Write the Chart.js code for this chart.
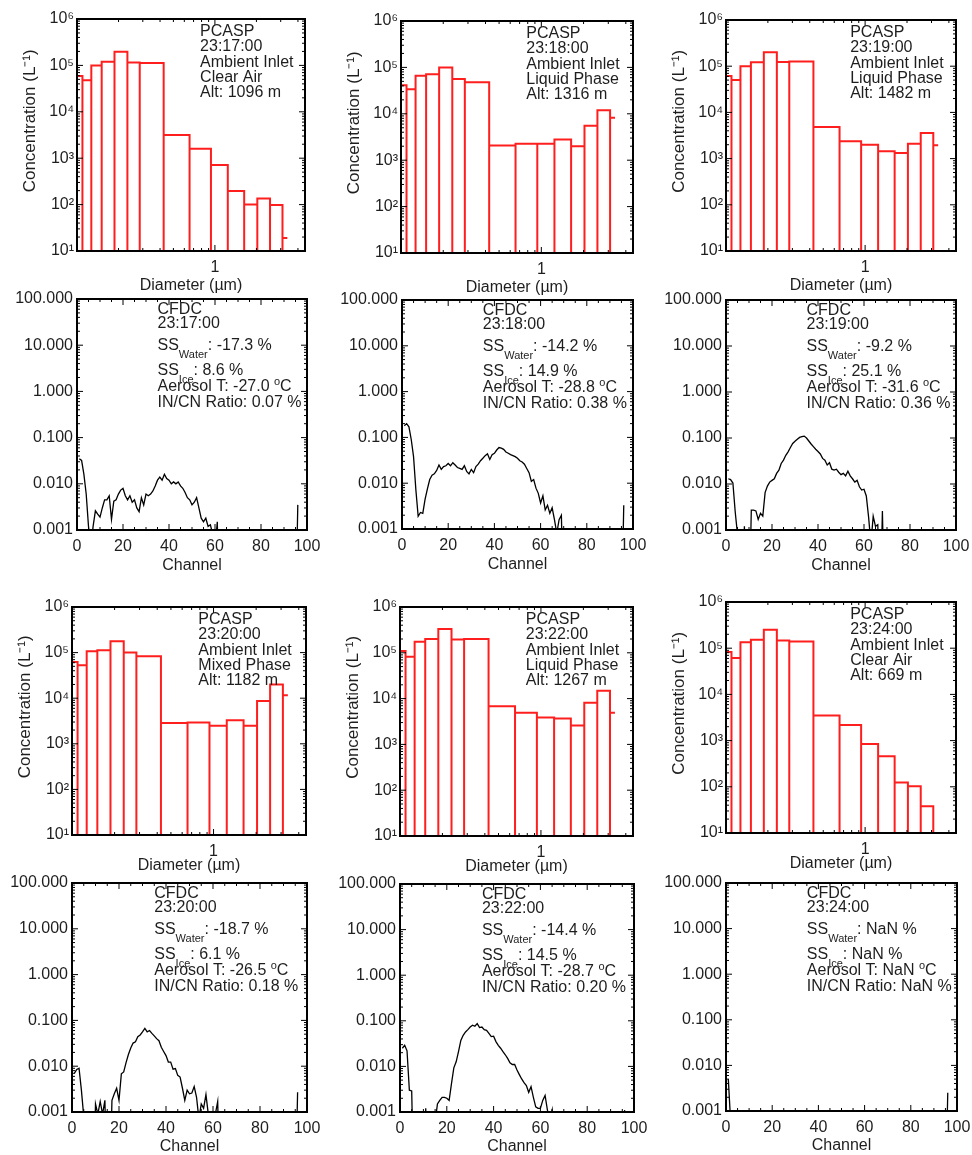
<!DOCTYPE html>
<html lang="en">
<head>
<meta charset="utf-8">
<title>PCASP size distributions and CFDC channel spectra</title>
<script src="https://cdn.jsdelivr.net/npm/chart.js@4.4.1/dist/chart.umd.min.js"></script>
<style>
    html, body { margin: 0; padding: 0; background: #ffffff; }
    #page { position: relative; width: 972px; height: 1155px; overflow: hidden; background: #ffffff; }
    #page canvas { position: absolute; }
</style>
</head>
<body>
<div id="page"></div>
<script>
// ================== Data ==================
// PCASP bin edges (um); 15 bins, the last one is drawn only as its top
const BIN_EDGES = [0.100, 0.1095, 0.127, 0.151, 0.187, 0.232, 0.285, 0.425, 0.655, 0.936, 1.24, 1.63, 2.03, 2.51, 3.09, 3.35];

const PCASP_TIMES = ['23:17:00', '23:18:00', '23:19:00', '23:20:00', '23:22:00', '23:24:00'];
const PCASP_INLET = 'Ambient Inlet';
const PCASP_PHASE = ['Clear Air', 'Liquid Phase', 'Liquid Phase', 'Mixed Phase', 'Liquid Phase', 'Clear Air'];
const PCASP_ALT = [1096, 1316, 1482, 1182, 1267, 669];

// concentration per bin (L^-1)
const PCASP_2317 = [5.9e4, 4.8e4, 1.0e5, 1.2e5, 1.97e5, 1.16e5, 1.12e5, 3.16e3, 1.6e3, 710, 197, 100, 135, 98, 19];
const PCASP_2318 = [4.1e4, 3.4e4, 6.6e4, 7.1e4, 1.0e5, 5.6e4, 4.8e4, 2.07e3, 2.25e3, 2.25e3, 2.8e3, 2.0e3, 5.5e3, 1.2e4, 8.2e3];
const PCASP_2319 = [6.1e4, 5.0e4, 1.0e5, 1.22e5, 2.0e5, 1.24e5, 1.26e5, 4.85e3, 2.37e3, 2.0e3, 1.44e3, 1.33e3, 2.1e3, 3.6e3, 1.95e3];
const PCASP_2320 = [6.2e4, 5.3e4, 1.07e5, 1.12e5, 1.77e5, 1.0e5, 8.3e4, 2.86e3, 2.95e3, 2.5e3, 3.27e3, 2.5e3, 8.7e3, 2.0e4, 1.16e4];
const PCASP_2322 = [1.09e5, 8.2e4, 1.74e5, 2.0e5, 3.3e5, 1.96e5, 2.0e5, 6.8e3, 4.9e3, 3.86e3, 3.7e3, 2.58e3, 8.1e3, 1.48e4, 4.9e3];
const PCASP_2324 = [8.3e4, 6.1e4, 1.35e5, 1.52e5, 2.5e5, 1.47e5, 1.4e5, 3.5e3, 2.17e3, 840, 460, 124, 103, 38, 5];
const PCASP_CONC = [PCASP_2317, PCASP_2318, PCASP_2319, PCASP_2320, PCASP_2322, PCASP_2324];

const CFDC_TIMES = ['23:17:00', '23:18:00', '23:19:00', '23:20:00', '23:22:00', '23:24:00'];
const SS_WATER = ['-17.3', '-14.2', '-9.2', '-18.7', '-14.4', 'NaN'];
const SS_ICE = ['8.6', '14.9', '25.1', '6.1', '14.5', 'NaN'];
const AEROSOL_T = ['-27.0', '-28.8', '-31.6', '-26.5', '-28.7', 'NaN'];
const IN_CN_RATIO = ['0.07', '0.38', '0.36', '0.18', '0.20', 'NaN'];

// CFDC channels 1..96
const CHANNELS = Array.from({ length: 96 }, (_, i) => i + 1);

const CFDC_2317 = [
    0.035, 0.032, 0.016, 0.006, 0.0012, 0.0004, 0.0012, 0.0026, 0.0022, 0.0019,
    0.003, 0.0045, 0.0045, 0.0055, 0.0017, 0.0042, 0.0045, 0.006, 0.0073, 0.008,
    0.0055, 0.0045, 0.0055, 0.004, 0.0045, 0.003, 0.0025, 0.005, 0.0035, 0.006,
    0.0055, 0.006, 0.007, 0.009, 0.012, 0.014, 0.012, 0.016, 0.013, 0.012,
    0.01, 0.011, 0.01, 0.011, 0.009, 0.008, 0.0065, 0.005, 0.0045, 0.0035,
    0.004, 0.005, 0.003, 0.0018, 0.0015, 0.0018, 0.0012, 0.0013, 0.0008, 0.0004,
    0.0015, 0, 0, 0, 0, 0, 0, 0, 0, 0,
    0, 0, 0, 0, 0, 0, 0, 0, 0, 0,
    0, 0, 0, 0, 0, 0, 0, 0, 0, 0,
    0, 0, 0, 0, 0, 0.0035
];
const CFDC_2318 = [
    0.18, 0.2, 0.17, 0.09, 0.038, 0.0072, 0.0019, 0.0023, 0.0022, 0.0045,
    0.0075, 0.012, 0.015, 0.016, 0.019, 0.025, 0.02, 0.023, 0.024, 0.027,
    0.024, 0.028, 0.025, 0.022, 0.021, 0.02, 0.024, 0.018, 0.016, 0.02,
    0.017, 0.023, 0.026, 0.031, 0.035, 0.04, 0.044, 0.033, 0.042, 0.045,
    0.053, 0.06, 0.058, 0.055, 0.048, 0.045, 0.042, 0.04, 0.038, 0.035,
    0.031, 0.029, 0.026, 0.021, 0.017, 0.011, 0.012, 0.0078, 0.006, 0.0037,
    0.0053, 0.0026, 0.0033, 0.0022, 0.0029, 0.0016, 0.0008, 0.0016, 0.002, 0,
    0, 0, 0, 0, 0, 0, 0, 0, 0, 0,
    0, 0, 0, 0, 0, 0, 0, 0, 0, 0,
    0, 0, 0, 0, 0, 0.0033
];
const CFDC_2319 = [
    0.013, 0.0125, 0.0105, 0.0025, 0.0008, 0, 0, 0.0012, 0, 0,
    0.0027, 0.0027, 0.0026, 0.0017, 0.0023, 0.002, 0.0065, 0.009, 0.011, 0.012,
    0.013, 0.017, 0.02, 0.028, 0.033, 0.042, 0.05, 0.062, 0.076, 0.085,
    0.094, 0.103, 0.107, 0.11, 0.1, 0.086, 0.074, 0.065, 0.057, 0.051,
    0.045, 0.036, 0.033, 0.026, 0.029, 0.021, 0.02, 0.021, 0.018, 0.016,
    0.017, 0.015, 0.019, 0.015, 0.013, 0.011, 0.012, 0.0087, 0.0074, 0.0077,
    0.0055, 0.0019, 0.0005, 0.002, 0.0012, 0.0013, 0, 0.0026, 0, 0,
    0, 0, 0, 0, 0, 0, 0, 0, 0, 0,
    0, 0, 0, 0, 0, 0, 0, 0, 0, 0,
    0, 0, 0, 0, 0, 0
];
const CFDC_2320 = [
    0.007, 0.0085, 0.009, 0.003, 0.0008, 0, 0, 0, 0, 0.0015,
    0.0009, 0.0017, 0.0009, 0.0018, 0, 0, 0.0018, 0.0025, 0.0033, 0.0018,
    0.0068, 0.0075, 0.012, 0.018, 0.025, 0.032, 0.034, 0.044, 0.048, 0.056,
    0.067, 0.056, 0.06, 0.052, 0.046, 0.04, 0.036, 0.026, 0.021, 0.017,
    0.0123, 0.0123, 0.0086, 0.0089, 0.0063, 0.0058, 0.0033, 0.0018, 0.003, 0.0025,
    0.0026, 0.0036, 0.0021, 0.0007, 0.0015, 0.0012, 0.0024, 0.0009, 0, 0,
    0.0009, 0.0017, 0, 0, 0, 0, 0, 0, 0, 0,
    0, 0, 0, 0, 0, 0, 0, 0, 0, 0,
    0, 0, 0, 0, 0, 0, 0, 0, 0, 0,
    0, 0, 0, 0, 0, 0.0027
];
const CFDC_2322 = [
    0.025, 0.029, 0.022, 0.003, 0.0029, 0, 0, 0, 0, 0,
    0.0012, 0, 0, 0, 0.0006, 0.0015, 0.0018, 0.0021, 0.0021, 0.002,
    0.0018, 0.0042, 0.0093, 0.0126, 0.021, 0.037, 0.048, 0.057, 0.064, 0.073,
    0.08, 0.076, 0.087, 0.071, 0.073, 0.064, 0.062, 0.053, 0.045, 0.046,
    0.035, 0.029, 0.025, 0.021, 0.018, 0.015, 0.012, 0.011, 0.011, 0.0083,
    0.0066, 0.0053, 0.0044, 0.0038, 0.0027, 0.0036, 0.0021, 0.0013, 0.0012, 0.0012,
    0.0018, 0.0023, 0.0011, 0.0007, 0.0011, 0, 0, 0, 0, 0,
    0, 0, 0, 0, 0, 0, 0, 0, 0, 0,
    0, 0, 0, 0, 0, 0, 0, 0, 0, 0,
    0, 0, 0, 0, 0, 0.0011
];
const CFDC_2324 = [
    0.005, 0.0006, 0, 0, 0, 0, 0, 0, 0, 0,
    0, 0, 0, 0, 0, 0, 0, 0, 0, 0,
    0, 0, 0, 0, 0, 0, 0, 0, 0, 0,
    0, 0, 0, 0, 0, 0, 0, 0, 0, 0,
    0, 0, 0, 0, 0, 0, 0, 0, 0, 0,
    0, 0, 0, 0, 0, 0, 0, 0, 0, 0,
    0, 0, 0, 0, 0, 0, 0, 0, 0, 0,
    0, 0, 0, 0, 0, 0, 0, 0, 0, 0,
    0, 0, 0, 0, 0, 0, 0, 0, 0, 0,
    0, 0, 0, 0, 0, 0.0025
];
const CFDC_CONC = [CFDC_2317, CFDC_2318, CFDC_2319, CFDC_2320, CFDC_2322, CFDC_2324];

// tick values
const DIAM_MAJOR = [1];
const DIAM_MINOR = [0.2, 0.3, 0.4, 0.5, 0.6, 0.7, 0.8, 0.9, 2, 3, 4];
const CONC_DECADES = [1e1, 1e2, 1e3, 1e4, 1e5, 1e6];
const CHANNEL_MAJOR = [0, 20, 40, 60, 80, 100];
const CHANNEL_MINOR = [5, 10, 15, 25, 30, 35, 45, 50, 55, 65, 70, 75, 85, 90, 95];
const CFDC_DECADES = [0.001, 0.01, 0.1, 1, 10, 100];

// ================== Layout ==================
const FONT = '"Liberation Sans", Arial, Helvetica, sans-serif';
const INK = '#1e1e1e';
const PAD_T = 14, PAD_R = 30;
const BELOW_AXIS = 1e-5; // where empty channels are drawn on the log axis

const PANELS = [
    { kind: 'pcasp', k: 0, rect: { l: 77, t: 19, r: 305, b: 251 }, axH: 44 },
    { kind: 'pcasp', k: 1, rect: { l: 401, t: 21, r: 633, b: 253 }, axH: 44 },
    { kind: 'pcasp', k: 2, rect: { l: 726, t: 20, r: 956, b: 251 }, axH: 44 },
    { kind: 'cfdc', k: 0, rect: { l: 77, t: 299, r: 307, b: 530 }, axH: 45 },
    { kind: 'cfdc', k: 1, rect: { l: 402, t: 300, r: 633, b: 529 }, axH: 45 },
    { kind: 'cfdc', k: 2, rect: { l: 726, t: 300, r: 956, b: 530 }, axH: 45 },
    { kind: 'pcasp', k: 3, rect: { l: 72, t: 607, r: 306, b: 835 }, axH: 40 },
    { kind: 'pcasp', k: 4, rect: { l: 400, t: 607, r: 633, b: 836 }, axH: 40 },
    { kind: 'pcasp', k: 5, rect: { l: 726, t: 602, r: 956, b: 833 }, axH: 40 },
    { kind: 'cfdc', k: 3, rect: { l: 72, t: 883, r: 307, b: 1112 }, axH: 44 },
    { kind: 'cfdc', k: 4, rect: { l: 400, t: 884, r: 634, b: 1112 }, axH: 44 },
    { kind: 'cfdc', k: 5, rect: { l: 726, t: 883, r: 957, b: 1111 }, axH: 44 }
];

Chart.defaults.font.family = FONT;
Chart.defaults.font.size = 16;
Chart.defaults.color = INK;

const SUP_DIGITS = '⁰¹²³⁴⁵⁶⁷⁸⁹';

function logMinors(decades) {
    const out = [];
    decades.slice(0, -1).forEach(d => {
        for (let m = 2; m <= 9; m++) out.push(d * m);
    });
    return out;
}

// ================== Plugins ==================
// box round the plot with ticks pointing inwards, on all four sides
function framePlugin(xMajor, xMinor, yMajor, yMinor) {
    return {
        id: 'frame',
        afterDatasetsDraw(chart) {
            const { ctx, chartArea: a } = chart;
            const xs = chart.scales.x, ys = chart.scales.y;
            ctx.save();
            ctx.strokeStyle = '#000';
            ctx.lineWidth = 1;
            ctx.beginPath();
            const xMark = (list, len) => list.forEach(v => {
                const px = xs.getPixelForValue(v);
                ctx.moveTo(px, a.bottom); ctx.lineTo(px, a.bottom - len);
                ctx.moveTo(px, a.top); ctx.lineTo(px, a.top + len);
            });
            const yMark = (list, len) => list.forEach(v => {
                const py = ys.getPixelForValue(v);
                ctx.moveTo(a.left, py); ctx.lineTo(a.left + len, py);
                ctx.moveTo(a.right, py); ctx.lineTo(a.right - len, py);
            });
            xMark(xMajor, 6); xMark(xMinor, 3);
            yMark(yMajor, 6); yMark(yMinor, 3);
            ctx.stroke();
            ctx.lineWidth = 2;
            ctx.strokeRect(a.left, a.top, a.right - a.left, a.bottom - a.top);
            ctx.restore();
        }
    };
}

// text block in the upper right of a panel, parts: [text, 'sub' | 'sup']
function notesPlugin(xFrac, lines) {
    return {
        id: 'notes',
        afterDraw(chart) {
            const { ctx, chartArea: a } = chart;
            const x0 = a.left + xFrac * (a.right - a.left);
            ctx.save();
            ctx.fillStyle = INK;
            ctx.textAlign = 'left';
            ctx.textBaseline = 'middle';
            lines.forEach(line => {
                let x = x0;
                line.parts.forEach(([text, kind]) => {
                    ctx.font = (kind ? 11 : 16) + 'px ' + FONT;
                    const dy = kind === 'sub' ? 9 : kind === 'sup' ? -5 : 0;
                    ctx.fillText(text, x, a.top + line.y + dy);
                    x += ctx.measureText(text).width;
                });
            });
            ctx.restore();
        }
    };
}

function pcaspNotes(k) {
    const rows = ['PCASP', PCASP_TIMES[k], PCASP_INLET, PCASP_PHASE[k], 'Alt: ' + PCASP_ALT[k] + ' m'];
    return rows.map((t, i) => ({ y: 12.5 + i * 15.3, parts: [[t]] }));
}

function cfdcNotes(k) {
    return [
        { y: 11, parts: [['CFDC']] },
        { y: 25, parts: [[CFDC_TIMES[k]]] },
        { y: 47, parts: [['SS'], ['Water', 'sub'], [': ' + SS_WATER[k] + ' %']] },
        { y: 72, parts: [['SS'], ['Ice', 'sub'], [': ' + SS_ICE[k] + ' %']] },
        { y: 88, parts: [['Aerosol T: ' + AEROSOL_T[k] + ' '], ['o', 'sup'], ['C']] },
        { y: 104, parts: [['IN/CN Ratio: ' + IN_CN_RATIO[k] + ' %']] }
    ];
}

// ================== Chart Handling ==================
function addCanvas(rect, axW, axH) {
    const w = (rect.r - rect.l) + axW + PAD_R;
    const h = (rect.b - rect.t) + PAD_T + axH;
    const canvas = document.createElement('canvas');
    canvas.width = w;
    canvas.height = h;
    canvas.style.left = (rect.l - axW) + 'px';
    canvas.style.top = (rect.t - PAD_T) + 'px';
    canvas.style.width = w + 'px';
    canvas.style.height = h + 'px';
    document.getElementById('page').appendChild(canvas);
    return canvas;
}

function axisBase(size, isX) {
    return {
        afterFit: s => { if (isX) s.height = size; else s.width = size; },
        grid: { display: false, drawTicks: false },
        border: { display: false }
    };
}

function baseOptions(scales) {
    return {
        responsive: false,
        animation: false,
        events: [],
        layout: { padding: { left: 0, top: PAD_T, right: PAD_R, bottom: 0 } },
        plugins: { legend: { display: false }, tooltip: { enabled: false } },
        scales: scales
    };
}

// outline of each bin down to below the axis; last bin only as its top
function histogramOutline(values) {
    const floor = 1;
    const last = values.length - 1;
    const pts = [];
    for (let i = 0; i < last; i++) {
        pts.push({ x: BIN_EDGES[i], y: floor }, { x: BIN_EDGES[i], y: values[i] },
                 { x: BIN_EDGES[i + 1], y: values[i] }, { x: BIN_EDGES[i + 1], y: floor });
    }
    pts.push({ x: BIN_EDGES[last], y: null });
    pts.push({ x: BIN_EDGES[last], y: values[last] }, { x: BIN_EDGES[last + 1], y: values[last] });
    return pts;
}

function renderPcasp(p) {
    const axW = 57;
    const canvas = addCanvas(p.rect, axW, p.axH);
    new Chart(canvas, {
        type: 'line',
        data: {
            datasets: [{
                data: histogramOutline(PCASP_CONC[p.k]),
                borderColor: '#ff1e1e',
                borderWidth: 2,
                borderJoinStyle: 'miter',
                pointRadius: 0,
                tension: 0,
                fill: false,
                spanGaps: false
            }]
        },
        options: baseOptions({
            x: Object.assign(axisBase(p.axH, true), {
                type: 'logarithmic', min: 0.1, max: 4.5,
                afterBuildTicks: s => { s.ticks = DIAM_MAJOR.map(v => ({ value: v })); },
                ticks: { padding: 7, autoSkip: false, maxRotation: 0, callback: v => String(v) },
                title: { display: true, text: 'Diameter (µm)', font: { size: 16 }, padding: 0 }
            }),
            y: Object.assign(axisBase(axW, false), {
                type: 'logarithmic', min: 10, max: 1e6,
                afterBuildTicks: s => { s.ticks = CONC_DECADES.map(v => ({ value: v })); },
                ticks: { padding: 3, autoSkip: false,
                         callback: v => '10' + SUP_DIGITS[Math.round(Math.log10(v))] },
                title: { display: true, text: '      Concentration (L⁻¹)', font: { size: 17 }, padding: 0 }
            })
        }),
        plugins: [
            framePlugin(DIAM_MAJOR, DIAM_MINOR, CONC_DECADES, logMinors(CONC_DECADES)),
            notesPlugin(0.54, pcaspNotes(p.k))
        ]
    });
}

function renderCfdc(p) {
    const axW = 66;
    const canvas = addCanvas(p.rect, axW, p.axH);
    const values = CFDC_CONC[p.k];
    new Chart(canvas, {
        type: 'line',
        data: {
            datasets: [{
                // empty channels fall off the bottom of the log axis
                data: CHANNELS.map((c, i) => ({ x: c, y: values[i] > 0 ? values[i] : BELOW_AXIS })),
                borderColor: '#000000',
                borderWidth: 1.3,
                pointRadius: 0,
                tension: 0,
                fill: false
            }]
        },
        options: baseOptions({
            x: Object.assign(axisBase(p.axH, true), {
                type: 'linear', min: 0, max: 100,
                afterBuildTicks: s => { s.ticks = CHANNEL_MAJOR.map(v => ({ value: v })); },
                ticks: { padding: 7, autoSkip: false, maxRotation: 0, callback: v => String(v) },
                title: { display: true, text: 'Channel', font: { size: 16 }, padding: 0 }
            }),
            y: Object.assign(axisBase(axW, false), {
                type: 'logarithmic', min: 0.001, max: 100,
                afterBuildTicks: s => { s.ticks = CFDC_DECADES.map(v => ({ value: v })); },
                ticks: { padding: 4, autoSkip: false, callback: v => Number(v).toFixed(3) }
            })
        }),
        plugins: [
            framePlugin(CHANNEL_MAJOR, CHANNEL_MINOR, CFDC_DECADES, logMinors(CFDC_DECADES)),
            notesPlugin(0.35, cfdcNotes(p.k))
        ]
    });
}

PANELS.forEach(p => (p.kind === 'pcasp' ? renderPcasp(p) : renderCfdc(p)));
</script>
</body>
</html>
